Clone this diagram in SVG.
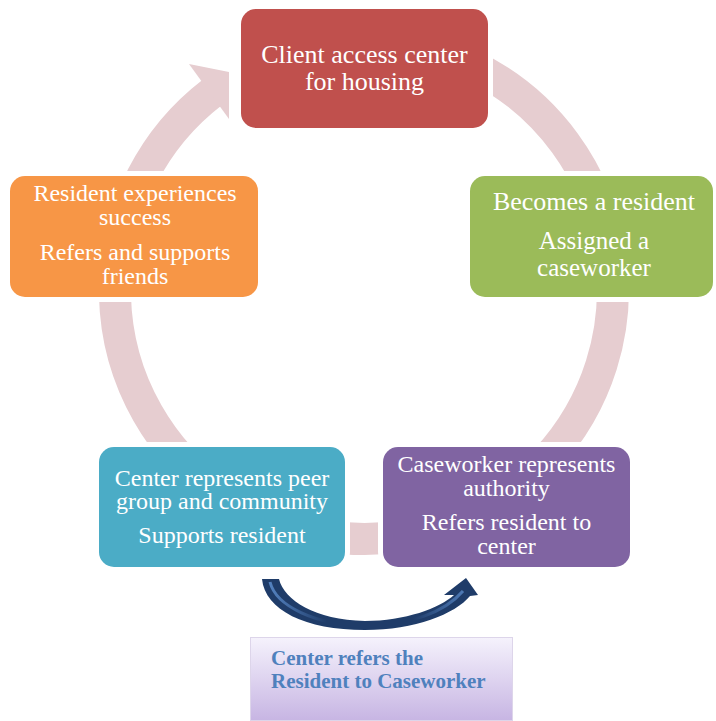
<svg xmlns="http://www.w3.org/2000/svg" width="716" height="721" viewBox="0 0 716 721">
  <defs>
    <style>
      .node rect { stroke: #ffffff; stroke-width: 10; paint-order: stroke; }
      .node text { font-family: "Liberation Serif", "Times New Roman", serif; fill: #ffffff; text-anchor: middle; }
      .big { font-size: 26px; }
      .sub { font-size: 25px; }
      .mid { font-size: 24px; }
      .ring { fill: none; stroke: #e6cdd0; stroke-width: 32; }
      .note text { font-family: "Liberation Serif", "Times New Roman", serif; font-weight: bold; font-size: 21px; fill: #4f81bd; }
    </style>
    <linearGradient id="noteFill" x1="0" y1="0" x2="0" y2="1">
      <stop offset="0" stop-color="#f5f2fc"/>
      <stop offset="1" stop-color="#c7b5e3"/>
    </linearGradient>
    <linearGradient id="curveShine" x1="262" y1="0" x2="478" y2="0" gradientUnits="userSpaceOnUse">
      <stop offset="0" stop-color="#5b8bcb"/>
      <stop offset="0.3" stop-color="#1f3c69"/>
      <stop offset="0.7" stop-color="#1f3c69"/>
      <stop offset="1" stop-color="#5b8bcb"/>
    </linearGradient>
  </defs>

  <rect width="716" height="721" fill="#ffffff"/>

  <!-- cycle connectors: one ring, cut by the white halo of each box -->
  <g id="connectors">
    <path class="ring" d="M 364 41 A 249 249 0 1 1 212.4 92.4"/>
    <polygon points="189,64 229,72 229,119" fill="#e6cdd0"/>
  </g>

  <g id="node-access" class="node">
    <rect x="241" y="9" width="247" height="119" rx="15" fill="#c0504d"/>
    <text class="big" x="364.5" y="63">Client access center</text>
    <text class="big" x="364.5" y="90">for housing</text>
  </g>

  <g id="node-resident" class="node">
    <rect x="470" y="176" width="243" height="121" rx="15" fill="#9bbb59"/>
    <text class="big" x="594" y="210">Becomes a resident</text>
    <text class="sub" x="594" y="249">Assigned a</text>
    <text class="sub" x="594" y="276">caseworker</text>
  </g>

  <g id="node-caseworker" class="node">
    <rect x="383" y="447" width="247" height="120" rx="15" fill="#8064a2"/>
    <text class="mid" x="506.5" y="472">Caseworker represents</text>
    <text class="mid" x="506.5" y="495.5">authority</text>
    <text class="mid" x="506.5" y="530">Refers resident to</text>
    <text class="mid" x="506.5" y="553.5">center</text>
  </g>

  <g id="node-center" class="node">
    <rect x="99" y="447" width="246" height="120" rx="15" fill="#4bacc6"/>
    <text class="mid" x="222" y="485.5">Center represents peer</text>
    <text class="mid" x="222" y="509">group and community</text>
    <text class="mid" x="222" y="542.5">Supports resident</text>
  </g>

  <g id="node-success" class="node">
    <rect x="10" y="176" width="248" height="121" rx="15" fill="#f79646"/>
    <text class="mid" x="135" y="200.5">Resident experiences</text>
    <text class="mid" x="135" y="225">success</text>
    <text class="mid" x="135" y="260">Refers and supports</text>
    <text class="mid" x="135" y="283.5">friends</text>
  </g>

  <!-- curved referral arrow from the center to the caseworker -->
  <g id="referral-arrow">
    <path d="M 262 579 L 279 579 C 284 600 315 620 365 621 C 405 621 440 608 454 595 L 444 595 L 466 578 L 478 595 L 470 596 C 455 614 415 630 365 630 C 305 630 265 610 262 579 Z" fill="#1f3c69"/>
    <path d="M 270 582 C 276 606 315 625 365 625.5 C 410 625.5 445 612 463 591" fill="none" stroke="url(#curveShine)" stroke-width="3"/>
  </g>

  <g id="note" class="note">
    <rect x="250.5" y="637.5" width="262" height="83" fill="url(#noteFill)" stroke="#ddd5ea" stroke-width="1"/>
    <text x="271" y="665">Center refers the</text>
    <text x="271" y="688">Resident to Caseworker</text>
  </g>
</svg>
